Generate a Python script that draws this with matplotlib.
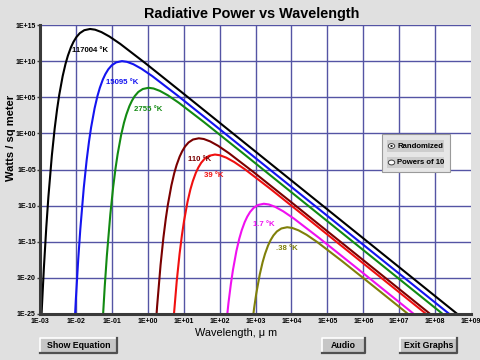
import matplotlib

matplotlib.use("Agg")

import matplotlib.pyplot as plt
from matplotlib.patches import Rectangle, Circle
from matplotlib.lines import Line2D
from matplotlib.ticker import NullLocator
import numpy as np

plt.rcParams["font.family"] = ["Liberation Sans", "DejaVu Sans"]

# curve labels / colours
TEMPS = ["117004 °K", "15095 °K", "2755 °K", "110 °K", "39 °K", "1.7 °K", ".38 °K"]
COLORS = ["#000000", "#1414f0", "#128a12", "#7a0000", "#f01010", "#f010f0", "#80800a"]

# log10(wavelength in um) and log10(W / sq m)
WL_117004 = [-2.971, -2.954, -2.892, -2.825, -2.767, -2.670, -2.591, -2.524, -2.466, -2.369, -2.290,
             -2.223, -2.139, -2.068, -1.989, -1.892, -1.767, -1.606, -1.466, -1.290, -1.068, -0.767,
             -0.068, 0.932, 9.0]
PW_117004 = [-26.56, -24.73, -18.63, -13.01, -8.83, -3.07, 0.70, 3.34, 5.28, 7.92, 9.61, 10.76,
             11.91, 12.66, 13.31, 13.87, 14.28, 14.45, 14.35, 14.02, 13.41, 12.39, 9.72, 5.75, -26.52]

WL_15095 = [-2.065, -2.003, -1.936, -1.878, -1.781, -1.702, -1.635, -1.577, -1.480, -1.401, -1.334,
            -1.250, -1.179, -1.100, -1.003, -0.878, -0.717, -0.577, -0.401, -0.179, 0.122, 0.821,
            1.821, 9.0]
PW_15095 = [-29.18, -23.08, -17.46, -13.28, -7.52, -3.75, -1.11, 0.83, 3.47, 5.16, 6.31, 7.46,
            8.21, 8.86, 9.42, 9.83, 10.00, 9.90, 9.57, 8.96, 7.94, 5.27, 1.30, -27.41]

WL_2755 = [-1.264, -1.197, -1.139, -1.042, -0.963, -0.896, -0.838, -0.741, -0.662, -0.595, -0.511,
           -0.440, -0.361, -0.264, -0.139, 0.022, 0.162, 0.338, 0.560, 0.861, 1.560, 2.560, 9.0]
PW_2755 = [-26.77, -21.15, -16.97, -11.21, -7.44, -4.80, -2.86, -0.22, 1.47, 2.62, 3.77, 4.52,
           5.17, 5.73, 6.14, 6.31, 6.21, 5.88, 5.27, 4.25, 1.58, -2.39, -28.15]

WL_110 = [0.202, 0.260, 0.357, 0.436, 0.503, 0.561, 0.658, 0.737, 0.804, 0.888, 0.959, 1.038,
          1.135, 1.260, 1.421, 1.561, 1.737, 1.959, 2.260, 2.959, 3.959, 9.0]
PW_110 = [-28.14, -23.96, -18.20, -14.43, -11.79, -9.85, -7.21, -5.52, -4.37, -3.22, -2.47, -1.82,
          -1.26, -0.85, -0.68, -0.78, -1.11, -1.72, -2.74, -5.41, -9.38, -29.54]

WL_39 = [0.710, 0.807, 0.886, 0.953, 1.011, 1.108, 1.187, 1.254, 1.338, 1.409, 1.488, 1.585,
         1.710, 1.871, 2.011, 2.187, 2.409, 2.710, 3.409, 4.409, 9.0]
PW_39 = [-26.21, -20.45, -16.68, -14.04, -12.10, -9.46, -7.77, -6.62, -5.47, -4.72, -4.07, -3.51,
         -3.10, -2.93, -3.03, -3.36, -3.97, -4.99, -7.66, -11.63, -29.99]

WL_1_7 = [2.168, 2.247, 2.314, 2.372, 2.469, 2.548, 2.615, 2.699, 2.770, 2.849, 2.946, 3.071,
          3.232, 3.372, 3.548, 3.770, 4.071, 4.770, 5.770, 9.0]
PW_1_7 = [-27.26, -23.49, -20.85, -18.91, -16.27, -14.58, -13.43, -12.28, -11.53, -10.88, -10.32,
          -9.91, -9.74, -9.84, -10.17, -10.78, -11.80, -14.47, -18.44, -31.36]

WL_0_38 = [2.897, 2.964, 3.022, 3.119, 3.198, 3.265, 3.349, 3.420, 3.499, 3.596, 3.721, 3.882,
           4.022, 4.198, 4.420, 4.721, 5.420, 6.420, 9.0]
PW_0_38 = [-26.74, -24.10, -22.16, -19.52, -17.83, -16.68, -15.53, -14.78, -14.13, -13.57, -13.16,
           -12.99, -13.09, -13.42, -14.03, -15.05, -17.72, -21.69, -32.01]

# label anchor points (log10 wavelength, log10 power)
LABEL_WL = [-2.11, -1.17, -0.39, 1.11, 1.58, 2.92, 3.56]
LABEL_PW = [11.53, 7.08, 3.33, -3.61, -5.83, -12.64, -15.97]

X_EXP = list(range(-3, 10))
Y_EXP = list(range(-25, 16, 5))

BG = "#e0e0e0"
GRID = "#5454a4"
W, H = 480, 360


def px(x, y):
    return x / W, 1 - y / H


def button(fig, x0, y0, x1, y1, text):
    fx0, fy1 = px(x0, y0)
    fx1, fy0 = px(x1, y1)
    fig.patches.append(Rectangle((fx0, fy0), fx1 - fx0, fy1 - fy0, transform=fig.transFigure,
                                 facecolor="#c6c6c6", edgecolor="none"))
    fig.lines.append(Line2D([fx0, fx0, fx1], [fy0, fy1, fy1], transform=fig.transFigure,
                            color="white", lw=1.2))
    fig.lines.append(Line2D([fx0, fx1, fx1], [fy0, fy0, fy1], transform=fig.transFigure,
                            color="#505050", lw=1.6))
    fig.text((fx0 + fx1) / 2, (fy0 + fy1) / 2, text, ha="center", va="center",
             fontsize=6.3, fontweight="bold")


fig = plt.figure(figsize=(4.8, 3.6), dpi=100, facecolor=BG)
ax = fig.add_axes([40 / W, 1 - 314 / H, 431 / W, 289 / H])
ax.set_facecolor("white")

series = [
    (WL_117004, PW_117004), (WL_15095, PW_15095), (WL_2755, PW_2755), (WL_110, PW_110),
    (WL_39, PW_39), (WL_1_7, PW_1_7), (WL_0_38, PW_0_38),
]
for (wl, pw), color in zip(series, COLORS):
    ax.plot(10.0 ** np.array(wl), 10.0 ** np.array(pw), color=color, lw=1.5)

for label, lx, ly, color in zip(TEMPS, LABEL_WL, LABEL_PW, COLORS):
    ax.text(10.0 ** lx, 10.0 ** ly, label, color=color, fontsize=5.6, fontweight="bold",
            ha="left", va="center")

ax.set_xscale("log")
ax.set_yscale("log")
ax.set_xlim(1e-3, 1e9)
ax.set_ylim(1e-25, 1e15)
ax.set_xticks([10.0 ** e for e in X_EXP])
ax.set_xticklabels(["1E{:+03d}".format(e) for e in X_EXP], fontsize=5, fontweight="bold")
ax.set_yticks([10.0 ** e for e in Y_EXP])
ax.set_yticklabels(["1E{:+03d}".format(e) for e in Y_EXP], fontsize=5, fontweight="bold")
ax.xaxis.set_minor_locator(NullLocator())
ax.yaxis.set_minor_locator(NullLocator())
ax.tick_params(axis="x", length=0, pad=3)
ax.tick_params(axis="y", length=2, width=1, pad=1, color="#404040")

ax.grid(True, color=GRID, lw=1)
ax.xaxis.get_gridlines()[-1].set_visible(False)
ax.spines["right"].set_visible(False)
ax.spines["top"].set_visible(False)
for side in ("left", "bottom"):
    ax.spines[side].set_linewidth(2.2)
    ax.spines[side].set_color("#3a3a3a")

fig.text(252 / W, 1 - 14 / H, "Radiative Power vs Wavelength", ha="center", va="center",
         fontsize=10.4, fontweight="bold")
fig.text(236 / W, 1 - 333 / H, "Wavelength, μ m", ha="center", va="center", fontsize=7.8)
fig.text(11 / W, 1 - 138 / H, "Watts / sq meter", ha="center", va="center", rotation=90,
         fontsize=8, fontweight="bold")

# radio-button panel
x0, y1 = px(382, 134)
x1, y0 = px(450, 172)
fig.patches.append(Rectangle((x0, y0), x1 - x0, y1 - y0, transform=fig.transFigure,
                             facecolor="#e6e6e6", edgecolor="#9a9a9a", lw=0.8, zorder=5))
for (top, bottom, text, on) in [(140, 152, "Randomized", True), (157, 168, "Powers of 10", False)]:
    bx0, by1 = px(387, top)
    bx1, by0 = px(444, bottom)
    fig.patches.append(Rectangle((bx0, by0), bx1 - bx0, by1 - by0, transform=fig.transFigure,
                                 facecolor="#cdcdcd", edgecolor="none", zorder=6))
    cx, cy = px(391.5, (top + bottom) / 2)
    fig.patches.append(Circle((cx, cy), 3.2 / W, transform=fig.transFigure, facecolor="white",
                              edgecolor="#404040", lw=0.7, zorder=7))
    if on:
        fig.patches.append(Circle((cx, cy), 1.2 / W, transform=fig.transFigure,
                                  facecolor="black", edgecolor="none", zorder=8))
    fig.text(px(397, 0)[0], cy, text, ha="left", va="center", fontsize=5.6,
             fontweight="bold", zorder=8)

button(fig, 40, 338, 117, 353, "Show Equation")
button(fig, 322, 338, 365, 353, "Audio")
button(fig, 400, 338, 457, 353, "Exit Graphs")

fig.savefig("out.png", dpi=100, facecolor=BG)
